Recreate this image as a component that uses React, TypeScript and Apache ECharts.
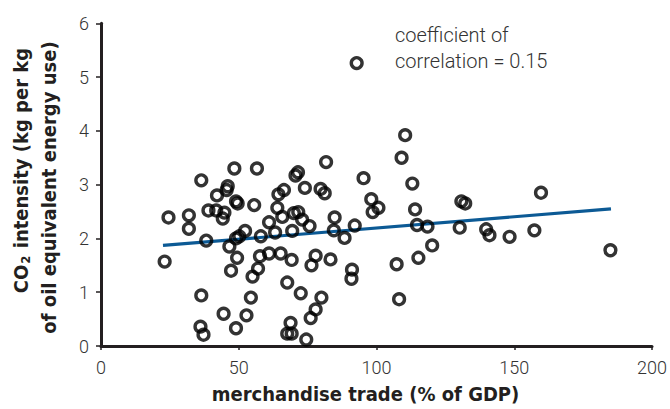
import React, { useEffect, useRef } from "react";
import * as echarts from "echarts";

// merchandise trade (% of GDP)
const tradeShare: number[] = [
  24.5, 23.1, 31.9, 31.9, 36.4, 36.4, 36.1, 37.2, 38.2, 39.0,
  41.8, 44.8, 44.2, 42.1, 46.0, 45.6, 48.4, 56.6, 49.0, 49.6,
  55.6, 46.6, 49.0, 50.2, 52.3, 58.0, 61.0, 64.4, 64.0, 63.2,
  44.5, 49.0, 52.8, 54.4, 47.2, 49.4, 55.0, 57.0, 57.7, 61.0,
  110.4, 109.1, 81.7, 71.5, 70.6, 95.3, 113.0, 66.4, 74.0, 79.7,
  81.2, 98.1, 100.7, 98.6, 114.0, 65.8, 70.0, 71.6, 73.0, 75.7,
  69.4, 84.8, 84.5, 88.4, 92.1, 114.7, 65.2, 69.2, 77.9, 76.4,
  83.3, 91.1, 90.9, 107.3, 115.2, 67.6, 72.5, 80.0, 108.2, 77.9,
  76.1, 68.8, 67.6, 69.2, 74.5, 130.8, 132.2, 159.7, 118.5, 130.2,
  120.2, 139.8, 141.0, 148.3, 157.3, 184.9, 92.8,
];

// CO2 intensity (kg per kg of oil equivalent energy use)
const co2Intensity: number[] = [
  2.39, 1.57, 2.43, 2.18, 3.08, 0.94, 0.36, 0.21, 1.96, 2.52,
  2.52, 2.48, 2.37, 2.8, 2.97, 2.9, 3.3, 3.3, 2.69, 2.65,
  2.62, 1.85, 2.0, 2.04, 2.14, 2.04, 2.3, 2.82, 2.57, 2.11,
  0.6, 0.33, 0.57, 0.9, 1.4, 1.64, 1.29, 1.44, 1.67, 1.72,
  3.92, 3.5, 3.42, 3.23, 3.17, 3.12, 3.02, 2.9, 2.94, 2.92,
  2.84, 2.73, 2.57, 2.49, 2.54, 2.4, 2.47, 2.49, 2.35, 2.23,
  2.14, 2.39, 2.15, 2.01, 2.24, 2.25, 1.72, 1.6, 1.68, 1.5,
  1.61, 1.42, 1.25, 1.52, 1.64, 1.18, 0.98, 0.9, 0.87, 0.68,
  0.52, 0.43, 0.23, 0.23, 0.12, 2.69, 2.65, 2.85, 2.22, 2.2,
  1.87, 2.17, 2.06, 2.03, 2.15, 1.78, 5.26,
];

// trend line end points
const trendX: number[] = [22.5, 185.1];
const trendY: number[] = [1.87, 2.55];

const xTicks: number[] = [0, 50, 100, 150, 200];
const yTicks: number[] = [0, 1, 2, 3, 4, 5, 6];

const annotationLines: string[] = ["coefficient of", "correlation = 0.15"];
const xTitle = "merchandise trade (% of GDP)";
const yTitleLine1 = "CO{sub|2} intensity (kg per kg";
const yTitleLine2 = "of oil equivalent energy use)";

export default function App() {
  const ref = useRef<HTMLDivElement>(null);

  useEffect(() => {
    if (!ref.current) return;
    const chart = echarts.init(ref.current, undefined, { renderer: "svg" });
    const axisColor = "#231f20";
    const condensed = "'Liberation Sans Narrow', 'DejaVu Sans Condensed', sans-serif";
    const labelFont = {
      fontFamily: "Roboto",
      fontWeight: 300 as any,
      fontSize: 18,
      color: "#333333",
    };
    const titleFont = {
      fontFamily: condensed,
      fontWeight: "bold" as any,
      fontSize: 20,
      fill: "#231f20",
    };

    chart.setOption({
      animation: false,
      grid: { left: 101, right: 15.5, top: 23.3, bottom: 62.7, containLabel: false },
      xAxis: {
        type: "value",
        min: xTicks[0],
        max: xTicks[xTicks.length - 1],
        interval: 50,
        name: xTitle,
        nameLocation: "middle",
        nameGap: 38,
        nameTextStyle: {
          fontFamily: condensed,
          fontWeight: "bold",
          fontSize: 20,
          color: "#231f20",
          padding: [0, 22, 0, 0],
        },
        axisLine: { show: true, onZero: false, lineStyle: { color: axisColor, width: 3 } },
        axisTick: { show: true, inside: false, length: 4, lineStyle: { color: axisColor, width: 1.5 } },
        axisLabel: { ...labelFont, margin: 12 },
        splitLine: { show: false },
      },
      yAxis: {
        type: "value",
        min: yTicks[0],
        max: yTicks[yTicks.length - 1],
        interval: 1,
        axisLine: { show: true, onZero: false, lineStyle: { color: axisColor, width: 3 } },
        axisTick: { show: true, inside: false, length: 5, lineStyle: { color: axisColor, width: 1.5 } },
        axisLabel: { ...labelFont, margin: 12 },
        splitLine: { show: false },
      },
      series: [
        {
          type: "line",
          data: trendX.map((x, i) => [x, trendY[i]]),
          showSymbol: false,
          symbol: "none",
          lineStyle: { color: "#0c5a95", width: 3.2 },
          z: 1,
          silent: true,
        },
        {
          type: "scatter",
          data: tradeShare.map((x, i) => [x, co2Intensity[i]]),
          symbol: "circle",
          symbolSize: 10.8,
          itemStyle: { color: "rgba(0,0,0,0)", borderColor: "#000000", borderWidth: 3.4 },
          z: 2,
        },
      ],
      graphic: [
        {
          type: "text",
          x: 395,
          y: 22,
          style: {
            text: annotationLines.join("\n"),
            fontFamily: "Roboto",
            fontWeight: 300,
            fontSize: 20,
            lineHeight: 26,
            fill: "#333333",
            align: "left",
            verticalAlign: "top",
          },
        },
        {
          type: "text",
          x: 21,
          y: 170.5,
          rotation: Math.PI / 2,
          style: {
            text: yTitleLine1,
            ...titleFont,
            align: "center",
            verticalAlign: "middle",
            rich: {
              sub: {
                fontFamily: condensed,
                fontWeight: "bold",
                fontSize: 13,
                fill: "#231f20",
                verticalAlign: "bottom",
                padding: [8, 1, 0, 1],
              },
            },
          },
        },
        {
          type: "text",
          x: 49,
          y: 187.5,
          rotation: Math.PI / 2,
          style: {
            text: yTitleLine2,
            ...titleFont,
            align: "center",
            verticalAlign: "middle",
          },
        },
      ],
    });

    return () => chart.dispose();
  }, []);

  return (
    <div
      ref={ref}
      style={{ position: "fixed", left: 0, top: 0, width: 670, height: 409, background: "#ffffff" }}
    />
  );
}
